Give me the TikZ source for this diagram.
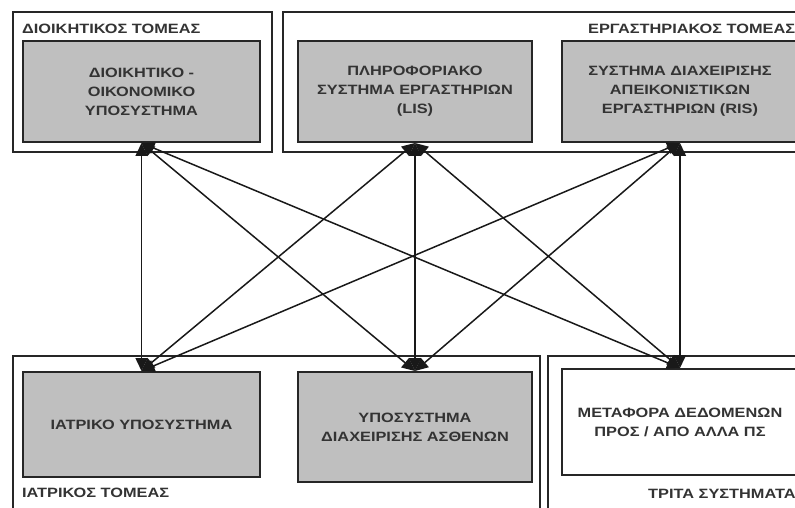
\documentclass[tikz,border=0pt]{standalone}
\usepackage{fontspec}
\newfontfamily\gr[FakeStretch=1.21]{Liberation Sans}
\usetikzlibrary{arrows.meta}
\begin{document}
\begin{tikzpicture}[x=1pt,y=-1pt,
  txt/.style={font=\gr\bfseries\fontsize{13.5}{19}\selectfont, text=black!80, inner sep=0pt},
  frame/.style={draw=black!85, line width=1.7pt, inner sep=0pt},
  sysbox/.style={draw=black!85, line width=2pt, fill=black!25, inner sep=0pt, align=center,
     font=\gr\bfseries\fontsize{13.5}{19}\selectfont, text=black!80},
  wbox/.style={sysbox, fill=white},
  link/.style={line width=1.5pt, black!90, {Triangle[length=13pt,width=12pt]}-{Triangle[length=13pt,width=12pt]}}]
\useasboundingbox (0,0) rectangle (795,508);
\clip (0,0) rectangle (795,508);
% frames
\node[frame, minimum width=259pt, minimum height=140pt] (fadm) at (142.5,82) {};
\node[frame, minimum width=525pt, minimum height=140pt] (flab) at (545.5,82) {};
\node[frame, minimum width=527pt, minimum height=200pt] (fmed) at (276.5,456) {};
\node[frame, minimum width=270pt, minimum height=200pt] (fthird) at (683,456) {};
% frame labels
\node[txt, anchor=west] (ladm) at (22,29) {ΔΙΟΙΚΗΤΙΚΟΣ ΤΟΜΕΑΣ};
\node[txt, anchor=west] (llab) at (588,29) {ΕΡΓΑΣΤΗΡΙΑΚΟΣ ΤΟΜΕΑΣ};
\node[txt, anchor=west] (lmed) at (22,493) {ΙΑΤΡΙΚΟΣ ΤΟΜΕΑΣ};
\node[txt, anchor=west] (lthird) at (648,494) {ΤΡΙΤΑ ΣΥΣΤΗΜΑΤΑ};
% system boxes
\node[sysbox, minimum width=237pt, minimum height=101pt] (adm) at (141.5,91.5)
  {ΔΙΟΙΚΗΤΙΚΟ -\\ΟΙΚΟΝΟΜΙΚΟ\\ΥΠΟΣΥΣΤΗΜΑ};
\node[sysbox, minimum width=234pt, minimum height=101pt] (lis) at (415,91.5)
  {ΠΛΗΡΟΦΟΡΙΑΚΟ\\ΣΥΣΤΗΜΑ ΕΡΓΑΣΤΗΡΙΩΝ\\(LIS)};
\node[sysbox, minimum width=236pt, minimum height=101pt] (ris) at (680,91.5)
  {ΣΥΣΤΗΜΑ ΔΙΑΧΕΙΡΙΣΗΣ\\ΑΠΕΙΚΟΝΙΣΤΙΚΩΝ\\ΕΡΓΑΣΤΗΡΙΩΝ (RIS)};
\node[sysbox, minimum width=237pt, minimum height=105pt] (med) at (141.5,424.5)
  {ΙΑΤΡΙΚΟ ΥΠΟΣΥΣΤΗΜΑ};
\node[sysbox, minimum width=234pt, minimum height=110pt] (pat) at (415,427)
  {ΥΠΟΣΥΣΤΗΜΑ\\ΔΙΑΧΕΙΡΙΣΗΣ ΑΣΘΕΝΩΝ};
\node[wbox, minimum width=236pt, minimum height=106pt] (ext) at (680,422)
  {ΜΕΤΑΦΟΡΑ ΔΕΔΟΜΕΝΩΝ\\ΠΡΟΣ / ΑΠΟ ΑΛΛΑ ΠΣ};
% links
\foreach \a in {adm,lis,ris}{
  \foreach \b in {med,pat,ext}{
    \draw[link] (\a.south) -- (\b.north);
  }
}
\end{tikzpicture}
\end{document}
